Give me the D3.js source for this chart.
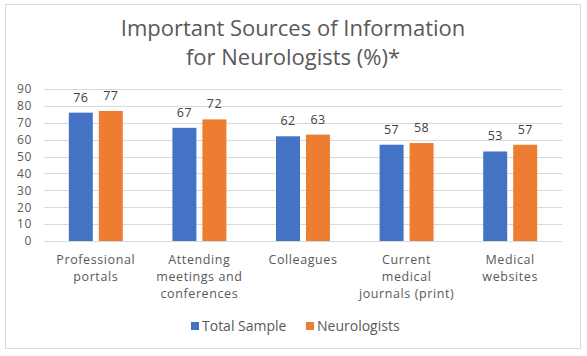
<!DOCTYPE html>
<html><head><meta charset="utf-8">
<script src="https://cdn.jsdelivr.net/npm/d3@7"></script>
<style>html,body{margin:0;padding:0;background:#fff;}svg{display:block;font-family:"Open Sans",sans-serif;}</style>
</head><body><svg id="c" width="587" height="356"></svg>
<script>
const categories = [["Professional","portals"],["Attending","meetings and","conferences"],["Colleagues"],["Current","medical","journals (print)"],["Medical","websites"]];
const seriesNames = ["Total Sample","Neurologists"];
const totalSample = [76,67,62,57,53];
const neurologists = [77,72,63,58,57];
const yTicks = [0,10,20,30,40,50,60,70,80,90];
const colors = ["#4472C4","#ED7D31"];
const titleLines = ["Important Sources of Information","for Neurologists (%)*"];

(function(){
const svg = d3.select("#c");
const F = "#595959";
svg.append("rect").attr("x",5.5).attr("y",4.5).attr("width",575).attr("height",344).attr("fill","#fff").attr("stroke","#d9d9d9");

const pLeft=44,pRight=562,pTop=89,pBottom=241;
const idx = d3.range(categories.length);
const x0 = d3.scaleBand().domain(idx).range([pLeft,pRight]).paddingInner(0.479).paddingOuter(0.2395);
const x1 = d3.scaleBand().domain([0,1]).range([0,x0.bandwidth()]).paddingInner(0.2);
const y = d3.scaleLinear().domain([0,90]).range([pBottom,pTop]);

svg.append("g").selectAll("line").data(yTicks).join("line")
  .attr("x1",pLeft).attr("x2",pRight).attr("y1",d=>Math.round(y(d))+0.5).attr("y2",d=>Math.round(y(d))+0.5)
  .attr("stroke","#d9d9d9").attr("stroke-width",1);

const yAxis = d3.axisLeft(y).tickValues(yTicks).tickSize(0).tickPadding(12);
const ga = svg.append("g").attr("transform",`translate(${pLeft},0)`).call(yAxis);
ga.select(".domain").remove();
ga.selectAll("text").attr("fill",F).style("font-size","12px").style("letter-spacing","0.6px").style("font-family","'Open Sans',sans-serif");

const data = [totalSample, neurologists];
const g = svg.append("g");
data.forEach((vals,s)=>{
  g.selectAll(null).data(vals).join("rect")
   .attr("x",(d,i)=>x0(i)+x1(s)).attr("width",x1.bandwidth())
   .attr("y",d=>y(d)).attr("height",d=>pBottom-y(d)).attr("fill",colors[s]);
  g.selectAll(null).data(vals).join("text")
   .attr("x",(d,i)=>x0(i)+x1(s)+x1.bandwidth()/2).attr("y",d=>y(d)-11)
   .attr("text-anchor","middle").attr("fill","#404040").style("font-size","12.5px").style("letter-spacing","0.4px").text(d=>d);
});

const cg = svg.append("g");
categories.forEach((lines,i)=>{
  const t = cg.append("text").attr("text-anchor","middle").attr("fill",F).style("font-size","12.5px").style("letter-spacing","0.6px");
  lines.forEach((l,j)=>t.append("tspan").attr("x",x0(i)+x0.bandwidth()/2).attr("y",264+j*17).text(l));
});

const tt = svg.append("text").attr("text-anchor","middle").attr("fill",F).style("font-size","22px");
titleLines.forEach((l,j)=>tt.append("tspan").attr("x",293).attr("y",36+j*28.5).text(l));

const lg = svg.append("g");
const lx=[191,306];
seriesNames.forEach((n,s)=>{
  lg.append("rect").attr("x",lx[s]).attr("y",322).attr("width",8).attr("height",8).attr("fill",colors[s]);
  lg.append("text").attr("x",lx[s]+11).attr("y",331).attr("fill",F).style("font-size","14px").text(n);
});
})();
</script></body></html>
